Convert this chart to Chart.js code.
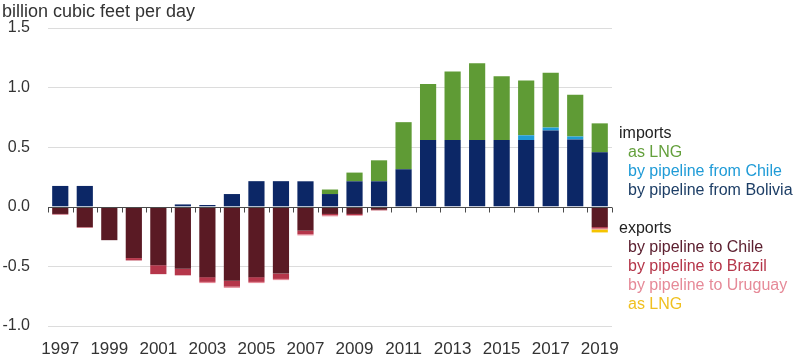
<!DOCTYPE html>
<html>
<head>
<meta charset="utf-8">
<script src="https://cdn.jsdelivr.net/npm/chart.js@4"></script>
<style>
  body { margin: 0; background: #fff; font-family: "Liberation Sans", Arial, sans-serif; }
  #wrap { position: relative; width: 800px; height: 358px; }
  #title { position: absolute; left: 2px; top: 1px; font-size: 18px; color: #333; }
  .legend { position: absolute; left: 619px; font-size: 16px; line-height: 19px; }
  .legend .head { color: #222; }
  .legend .item { padding-left: 9px; }
</style>
</head>
<body>
<div id="wrap">
  <canvas id="chart" width="800" height="358"></canvas>
  <div id="title">billion cubic feet per day</div>
  <div class="legend" style="top:123px">
    <div class="head">imports</div>
    <div class="item" style="color:#64a03c">as LNG</div>
    <div class="item" style="color:#1f9bd7">by pipeline from Chile</div>
    <div class="item" style="color:#1d3e66">by pipeline from Bolivia</div>
  </div>
  <div class="legend" style="top:218px">
    <div class="head">exports</div>
    <div class="item" style="color:#5c2030">by pipeline to Chile</div>
    <div class="item" style="color:#b5364a">by pipeline to Brazil</div>
    <div class="item" style="color:#e68a98">by pipeline to Uruguay</div>
    <div class="item" style="color:#f0c020">as LNG</div>
  </div>
</div>
<script>
// years on the x axis
const years = ['1997', '1998', '1999', '2000', '2001', '2002', '2003', '2004', '2005', '2006', '2007', '2008',
    '2009', '2010', '2011', '2012', '2013', '2014', '2015', '2016', '2017', '2018', '2019'];

// imports (positive)
const importBolivia = [0.175, 0.175, 0, 0, 0, 0.02, 0.015, 0.107, 0.215, 0.215, 0.214, 0.107,
    0.214, 0.214, 0.315, 0.56, 0.56, 0.56, 0.56, 0.56, 0.64, 0.565, 0.457];
const importChile = [0, 0, 0, 0, 0, 0, 0, 0, 0, 0, 0, 0,
    0, 0, 0, 0, 0, 0, 0, 0.04, 0.025, 0.025, 0];
const importLNG = [0, 0, 0, 0, 0, 0, 0, 0, 0, 0, 0, 0.038,
    0.073, 0.176, 0.395, 0.47, 0.575, 0.645, 0.535, 0.46, 0.46, 0.35, 0.243];

// exports (negative)
const exportChile = [-0.06, -0.17, -0.28, -0.43, -0.49, -0.52, -0.59, -0.62, -0.59, -0.56, -0.2, -0.06,
    -0.06, -0.025, -0.005, 0, 0, 0, 0, 0, 0, 0, -0.17];
const exportBrazil = [-0.005, -0.005, 0, -0.02, -0.075, -0.055, -0.04, -0.05, -0.04, -0.045, -0.03, -0.01,
    -0.01, -0.005, -0.005, 0, 0, 0, 0, 0, 0, 0, -0.012];
const exportUruguay = [0, 0, 0, 0, 0, 0, -0.01, -0.01, -0.01, -0.01, -0.01, -0.01,
    -0.005, 0, 0, 0, 0, 0, 0, 0, 0, 0, -0.008];
const exportLNG = [0, 0, 0, 0, 0, 0, 0, 0, 0, 0, 0, 0,
    0, 0, 0, 0, 0, 0, 0, 0, 0, 0, -0.025];

const yTicks = [-1.0, -0.5, 0.0, 0.5, 1.0, 1.5];

// zero line with small ticks between the years
const zeroLine = {
    id: 'zeroLine',
    afterDatasetsDraw(chart) {
        const { ctx, chartArea, scales } = chart;
        const y0 = Math.round(scales.y.getPixelForValue(0)) + 0.5;
        ctx.save();
        ctx.strokeStyle = '#4a4a4a';
        ctx.lineWidth = 1;
        ctx.beginPath();
        ctx.moveTo(chartArea.left, y0);
        ctx.lineTo(chartArea.right, y0);
        for (let i = 0; i <= years.length; i++) {
            const x = Math.round(scales.x.getPixelForValue(i - 0.5)) + 0.5;
            ctx.moveTo(x, y0);
            ctx.lineTo(x, y0 + 5);
        }
        ctx.stroke();
        ctx.restore();
    }
};

const ds = (label, data, color) => ({ label, data, backgroundColor: color, stack: 's', borderWidth: 0 });

new Chart(document.getElementById('chart'), {
    type: 'bar',
    data: {
        labels: years,
        datasets: [
            ds('imports by pipeline from Bolivia', importBolivia, '#0c2766'),
            ds('imports by pipeline from Chile', importChile, '#1f9bd7'),
            ds('imports as LNG', importLNG, '#5f9b35'),
            ds('exports by pipeline to Chile', exportChile, '#5a1a24'),
            ds('exports by pipeline to Brazil', exportBrazil, '#b5364a'),
            ds('exports by pipeline to Uruguay', exportUruguay, '#e68a98'),
            ds('exports as LNG', exportLNG, '#f5c400')
        ]
    },
    options: {
        responsive: false,
        devicePixelRatio: 1,
        animation: false,
        layout: { padding: { top: 28, right: 188, left: 0, bottom: 0 } },
        datasets: { bar: { categoryPercentage: 1, barPercentage: 0.66 } },
        plugins: { legend: { display: false }, tooltip: { enabled: false } },
        scales: {
            x: {
                stacked: true,
                offset: true,
                grid: { display: false, drawTicks: false },
                border: { display: false },
                afterFit: (scale) => { scale.height = 32; },
                ticks: {
                    autoSkip: false,
                    maxRotation: 0,
                    padding: 13,
                    color: '#333',
                    font: { family: 'Liberation Sans', size: 17 },
                    callback: (v, i) => (i % 2 === 0 ? years[i] : '')
                }
            },
            y: {
                stacked: true,
                min: -1,
                max: 1.5,
                afterBuildTicks: (scale) => { scale.ticks = yTicks.map(v => ({ value: v })); },
                afterFit: (scale) => { scale.width = 48; },
                grid: {
                    color: (c) => (c.tick && c.tick.value === 0 ? 'rgba(0,0,0,0)' : '#dcdcdc'),
                    drawTicks: false
                },
                border: { display: false },
                ticks: {
                    padding: 18,
                    color: '#333',
                    font: { family: 'Liberation Sans', size: 16 },
                    callback: (v) => v.toFixed(1)
                }
            }
        }
    },
    plugins: [zeroLine]
});
</script>
</body>
</html>
